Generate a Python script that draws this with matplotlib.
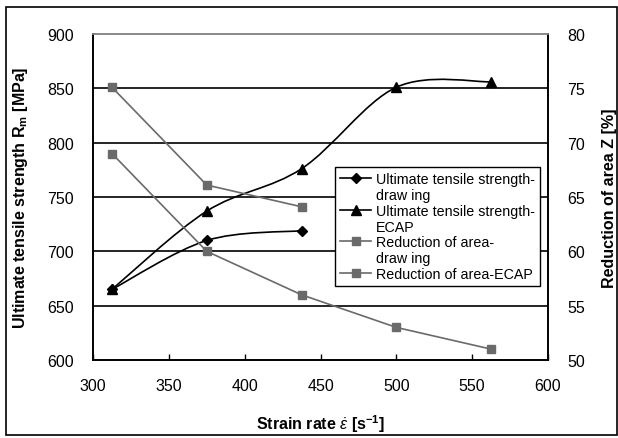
#!/usr/bin/env python3

import matplotlib
matplotlib.use('Agg')
import matplotlib.pyplot as plt
from matplotlib.path import Path
from matplotlib.patches import PathPatch, Rectangle
from matplotlib.lines import Line2D

plt.rcParams['font.family'] = ['Liberation Sans', 'DejaVu Sans']
plt.rcParams['mathtext.fontset'] = 'custom'
plt.rcParams['mathtext.rm'] = 'Liberation Sans'
plt.rcParams['mathtext.it'] = 'Liberation Sans:italic'
plt.rcParams['mathtext.bf'] = 'Liberation Sans:bold'

# data
rate_drawing = [312.5, 375, 437.5]
uts_drawing = [665, 710, 719]
rate_ecap = [312.5, 375, 437.5, 500, 562.5]
uts_ecap = [665, 737, 776, 851, 856]
z_drawing = [75.1, 66.1, 64.1]
z_ecap = [69, 60, 56, 53, 51]

x_ticks = [300, 350, 400, 450, 500, 550, 600]
left_ticks = [600, 650, 700, 750, 800, 850, 900]
right_ticks = [50, 55, 60, 65, 70, 75, 80]


def smooth_path(xs, ys):
    # Excel-like smoothed line: cubic bezier segments through the points
    pts = list(zip(xs, ys))
    n = len(pts)
    verts = [pts[0]]
    codes = [Path.MOVETO]
    for i in range(n - 1):
        p0 = pts[i - 1] if i > 0 else pts[i]
        p1 = pts[i]
        p2 = pts[i + 1]
        p3 = pts[i + 2] if i + 2 < n else pts[i + 1]
        c1 = (p1[0] + (p2[0] - p0[0]) / 6, p1[1] + (p2[1] - p0[1]) / 6)
        c2 = (p2[0] - (p3[0] - p1[0]) / 6, p2[1] - (p3[1] - p1[1]) / 6)
        verts += [c1, c2, p2]
        codes += [Path.CURVE4] * 3
    return Path(verts, codes)


def plot(out):
    fig = plt.figure(figsize=(6.18, 4.39), dpi=100)
    ax = fig.add_axes([93 / 618, 1 - 361 / 439, 455 / 618, 326 / 439])
    ax2 = ax.twinx()

    ax.set_xlim(300, 600)
    ax.set_ylim(600, 900)
    ax2.set_ylim(50, 80)
    ax.set_xticks(x_ticks)
    ax.set_yticks(left_ticks)
    ax2.set_yticks(right_ticks)

    for y in left_ticks[1:-1]:
        ax.axhline(y, color='black', lw=1.2, zorder=1)

    # ultimate tensile strength, smoothed lines
    ax.add_patch(PathPatch(smooth_path(rate_drawing, uts_drawing),
                           fill=False, ec='black', lw=1.2, zorder=3))
    ax.add_patch(PathPatch(smooth_path(rate_ecap, uts_ecap),
                           fill=False, ec='black', lw=1.2, zorder=3))
    ax.plot(rate_drawing, uts_drawing, 'D', color='black', ms=5, zorder=4)
    ax.plot(rate_ecap, uts_ecap, '^', color='black', ms=7, zorder=4)

    # reduction of area
    ax2.plot(rate_drawing, z_drawing, '-s', color='#6a6a6a', lw=1.2, ms=6)
    ax2.plot(rate_ecap, z_ecap, '-s', color='#6a6a6a', lw=1.2, ms=6)

    for a in (ax, ax2):
        for s in a.spines.values():
            s.set_linewidth(1.2)
            s.set_color('black')
        a.spines['top'].set_color('#8a8a8a')
    ax.tick_params(axis='x', direction='in', length=4, width=1, pad=13, labelsize=11.5)
    ax.tick_params(axis='y', length=0, pad=14, labelsize=11.5)
    ax2.tick_params(axis='y', length=0, pad=14, labelsize=11.5)

    ax.set_xlabel(r'Strain rate $\dot{\varepsilon}$ [s$^{\mathbf{-1}}$]',
                  fontsize=11.5, fontweight='bold', labelpad=14)
    ax.set_ylabel(r'Ultimate tensile strength R$_{\mathbf{m}}$ [MPa]',
                  fontsize=11.5, fontweight='bold', labelpad=12)
    ax2.set_ylabel('Reduction of area Z [%]', fontsize=11.5,
                   fontweight='bold', labelpad=12)

    # legend, one row per printed line as in the original
    blank = Line2D([], [], color='none')
    h1 = Line2D([], [], color='black', lw=1.2, marker='D', ms=5)
    h2 = Line2D([], [], color='black', lw=1.2, marker='^', ms=7)
    h3 = Line2D([], [], color='#6a6a6a', lw=1.2, marker='s', ms=6)
    h4 = Line2D([], [], color='#6a6a6a', lw=1.2, marker='s', ms=6)
    handles = [h1, blank, h2, blank, h3, blank, h4]
    labels = ['Ultimate tensile strength-', 'draw ing',
              'Ultimate tensile strength-', 'ECAP',
              'Reduction of area-', 'draw ing', 'Reduction of area-ECAP']
    leg = ax2.legend(handles, labels, loc='upper left',
                     bbox_to_anchor=(335 / 618, 1 - 168 / 439),
                     bbox_transform=fig.transFigure, fontsize=10.3,
                     frameon=True, fancybox=False, framealpha=1,
                     edgecolor='black', labelspacing=0.13, handlelength=2.2,
                     handletextpad=0.3, borderpad=0.35, borderaxespad=0)
    leg.get_frame().set_linewidth(1.0)

    fig.patches.append(Rectangle((6 / 618, 3 / 439), 611 / 618, 428 / 439,
                                 transform=fig.transFigure, fill=False,
                                 ec='black', lw=1.2))

    fig.savefig(out, dpi=100)


def main():
    plot('out.png')


if __name__ == '__main__':
    main()
